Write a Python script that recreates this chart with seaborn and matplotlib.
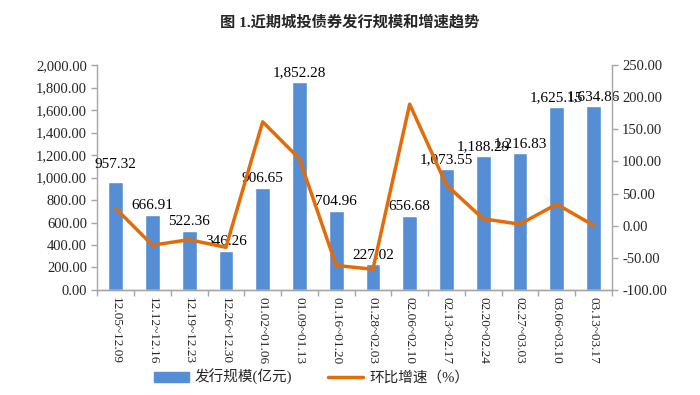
import numpy as np
import pandas as pd
import matplotlib
matplotlib.use('Agg')
import matplotlib.pyplot as plt
from matplotlib.lines import Line2D
from matplotlib.patches import Patch
import seaborn as sns

# weekly periods
periods = ['12.05~12.09', '12.12~12.16', '12.19~12.23', '12.26~12.30',
           '01.02~01.06', '01.09~01.13', '01.16~01.20', '01.28~02.03',
           '02.06~02.10', '02.13~02.17', '02.20~02.24', '02.27~03.03',
           '03.06~03.10', '03.13~03.17']
# issuance (100m yuan)
issuance = [957.32, 666.91, 522.36, 346.26, 906.65, 1852.28, 704.96,
            227.02, 656.68, 1073.55, 1188.29, 1216.83, 1625.15, 1634.86]
# week-on-week growth (%)
growth = [27.0, -30.3, -21.7, -33.7, 161.8, 104.3, -61.9, -67.8,
          189.3, 63.5, 10.7, 2.4, 33.6, 0.6]

bar_color = '#558ed5'
line_color = '#e36c09'
grey = '#a6a6a6'

sns.set_style('white')
plt.rcParams['font.family'] = ['Liberation Serif', 'Noto Sans CJK SC']

df = pd.DataFrame({'period': periods, 'issuance': issuance, 'growth': growth})
df['pos'] = np.arange(len(df))

fig = plt.figure(figsize=(7, 3.95), dpi=100)
ax = fig.add_axes([0.139, 0.266, 0.735, 0.569])

sns.barplot(data=df, x='period', y='issuance', color=bar_color, width=0.4,
            saturation=1, ax=ax)
ax.set_xlim(-0.5, len(df) - 0.5)
ax.set_ylim(0, 2000)
ax.set_yticks(np.arange(0, 2001, 200))
ax.set_yticklabels([f'{v:,.2f}' for v in np.arange(0, 2001, 200)])
ax.set_xlabel('')
ax.set_ylabel('')

# value labels above bars
for i, v in enumerate(issuance):
    off = 8 if i == 0 else 2
    ax.annotate(f'{v:,.2f}', (i, v), xytext=(0, off), textcoords='offset points',
                ha='center', va='bottom', fontsize=11, color='black')

# category boundary ticks on x axis
ax.set_xticks(np.arange(len(df)))
ax.set_xticklabels(periods, rotation=270, fontsize=9.5)
ax.tick_params(axis='x', which='major', length=0, pad=5)
ax.set_xticks(np.arange(-0.5, len(df), 1), minor=True)
ax.tick_params(axis='x', which='minor', length=4, color=grey, width=1,
               bottom=True)

ax2 = ax.twinx()
sns.lineplot(data=df, x='pos', y='growth', color=line_color, linewidth=2.5,
             ax=ax2)
ax2.set_ylim(-100, 250)
ax2.set_yticks(np.arange(-100, 251, 50))
ax2.set_yticklabels([f'{v:.2f}' for v in np.arange(-100, 251, 50)])
ax2.set_ylabel('')
ax2.set_xlabel('')
ax.set_xlim(-0.5, len(df) - 0.5)

for a in (ax, ax2):
    a.spines['top'].set_visible(False)
    for s in ('left', 'right', 'bottom'):
        a.spines[s].set_color(grey)
        a.spines[s].set_linewidth(1)
    a.tick_params(axis='y', which='both', length=4, color=grey, labelsize=10.5,
                  width=1)
ax2.spines['left'].set_visible(False)
ax.spines['right'].set_visible(False)
ax.tick_params(axis='y', left=True, right=False, direction='out')
ax2.tick_params(axis='y', right=True, left=False, direction='out')

fig.text(0.5, 0.945, '图 1.近期城投债券发行规模和增速趋势', ha='center',
         va='center', fontsize=11, fontweight='bold')

handles = [Patch(facecolor=bar_color, edgecolor=bar_color),
           Line2D([0], [0], color=line_color, linewidth=2.5)]
fig.legend(handles, ['发行规模(亿元)', '环比增速（%）'], loc='center',
           bbox_to_anchor=(0.445, 0.045), ncol=2, frameon=False, fontsize=10.5,
           handlelength=2.4, columnspacing=2.5, handletextpad=0.4)

fig.savefig('out.png', dpi=100)
